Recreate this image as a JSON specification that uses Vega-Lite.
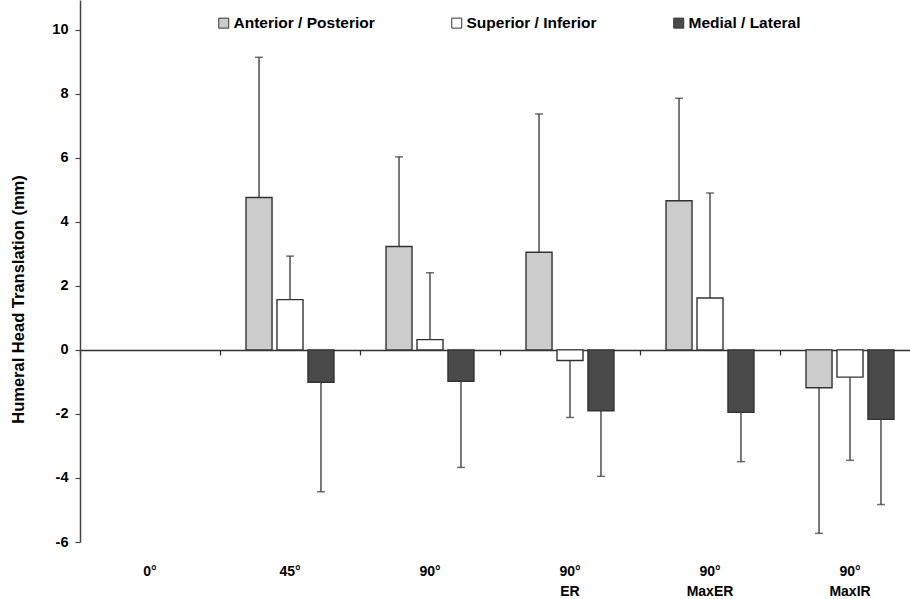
{
  "$schema": "https://vega.github.io/schema/vega-lite/v6.json",
  "autosize": {"type": "none"},
  "width": 830,
  "height": 542,
  "padding": {"left": 80, "top": 0, "right": 0, "bottom": 57},
  "background": "white",
  "config": {
    "view": {"stroke": null},
    "font": "Liberation Sans"
  },
  "data": {
    "values": [
      {"cat": "45°", "dir": "Anterior / Posterior", "value": 4.76, "err": 9.14},
      {"cat": "45°", "dir": "Superior / Inferior", "value": 1.57, "err": 2.93},
      {"cat": "45°", "dir": "Medial / Lateral", "value": -1.01, "err": -4.43},
      {"cat": "90°", "dir": "Anterior / Posterior", "value": 3.23, "err": 6.03},
      {"cat": "90°", "dir": "Superior / Inferior", "value": 0.32, "err": 2.41},
      {"cat": "90°", "dir": "Medial / Lateral", "value": -0.98, "err": -3.67},
      {"cat": "90°|ER", "dir": "Anterior / Posterior", "value": 3.05, "err": 7.37},
      {"cat": "90°|ER", "dir": "Superior / Inferior", "value": -0.33, "err": -2.11},
      {"cat": "90°|ER", "dir": "Medial / Lateral", "value": -1.9, "err": -3.95},
      {"cat": "90°|MaxER", "dir": "Anterior / Posterior", "value": 4.66, "err": 7.86},
      {"cat": "90°|MaxER", "dir": "Superior / Inferior", "value": 1.62, "err": 4.9},
      {"cat": "90°|MaxER", "dir": "Medial / Lateral", "value": -1.95, "err": -3.49},
      {"cat": "90°|MaxIR", "dir": "Anterior / Posterior", "value": -1.18, "err": -5.73},
      {"cat": "90°|MaxIR", "dir": "Superior / Inferior", "value": -0.85, "err": -3.45},
      {"cat": "90°|MaxIR", "dir": "Medial / Lateral", "value": -2.17, "err": -4.83}
    ]
  },
  "resolve": {"axis": {"x": "independent"}},
  "layer": [
    {
      "mark": {"type": "bar", "stroke": "#333333", "strokeWidth": 1.4},
      "encoding": {
        "x": {
          "field": "cat", "type": "nominal",
          "scale": {"domain": ["0°", "45°", "90°", "90°|ER", "90°|MaxER", "90°|MaxIR"], "range": [0, 840], "paddingInner": 0, "paddingOuter": 0},
          "axis": {
            "orient": "bottom", "title": null, "domain": false, "ticks": false, "tickSize": 0,
            "labelPadding": 22, "labelAngle": 0, "labelBaseline": "top",
            "labelExpr": "split(datum.label, '|')",
            "labelFont": "Liberation Sans", "labelFontSize": 14, "labelFontWeight": "bold",
            "labelColor": "#000000", "labelLineHeight": 20
          }
        },
        "xOffset": {
          "field": "dir", "type": "nominal",
          "scale": {"domain": ["Anterior / Posterior", "Superior / Inferior", "Medial / Lateral"], "paddingInner": 0.16, "paddingOuter": 0.84}
        },
        "y": {
          "field": "value", "type": "quantitative",
          "scale": {"domain": [-6, 10.93], "nice": false, "zero": false},
          "axis": {
            "title": "Humeral Head Translation (mm)",
            "values": [-6, -4, -2, 0, 2, 4, 6, 8, 10],
            "labelExpr": "toString(datum.value)",
            "grid": false, "domainColor": "#444444", "domainWidth": 1.5,
            "tickColor": "#444444", "tickWidth": 1.2, "tickSize": 5,
            "labelPadding": 7, "labelFont": "Liberation Sans", "labelFontSize": 14.5,
            "labelFontWeight": "bold", "labelColor": "#000000",
            "titleFont": "Liberation Sans", "titleFontSize": 16.5, "titleFontWeight": "bold",
            "titleColor": "#000000", "titleX": -62, "titleY": 299,
            "titleAngle": -90, "titleAlign": "center", "titleBaseline": "middle"
          }
        },
        "color": {
          "field": "dir", "type": "nominal",
          "scale": {"domain": ["Anterior / Posterior", "Superior / Inferior", "Medial / Lateral"], "range": ["#cccccc", "#ffffff", "#4a4a4a"]},
          "legend": {
            "title": null, "orient": "none", "direction": "horizontal",
            "legendX": 136, "legendY": 15, "padding": 0,
            "columnPadding": 74, "symbolType": "square", "symbolSize": 100,
            "symbolStrokeColor": "#333333", "symbolStrokeWidth": 1,
            "labelFont": "Liberation Sans", "labelFontSize": 15.5, "labelFontWeight": "bold",
            "labelColor": "#000000", "labelOffset": 2
          }
        }
      }
    },
    {
      "mark": {"type": "rule", "color": "#333333", "strokeWidth": 1.3},
      "encoding": {
        "x": {"field": "cat", "type": "nominal", "axis": null},
        "xOffset": {"field": "dir", "type": "nominal"},
        "y": {"field": "value", "type": "quantitative"},
        "y2": {"field": "err"}
      }
    },
    {
      "mark": {"type": "tick", "color": "#333333", "size": 8, "thickness": 1.5, "orient": "horizontal"},
      "encoding": {
        "x": {
          "field": "cat", "type": "nominal",
          "axis": {
            "orient": "bottom", "title": null, "offset": -192, "labels": false,
            "domain": true, "domainColor": "#333333", "domainWidth": 1.3,
            "ticks": true, "tickBand": "extent", "tickSize": 5, "tickColor": "#333333", "tickWidth": 1.3
          }
        },
        "xOffset": {"field": "dir", "type": "nominal"},
        "y": {"field": "err", "type": "quantitative"}
      }
    }
  ]
}
